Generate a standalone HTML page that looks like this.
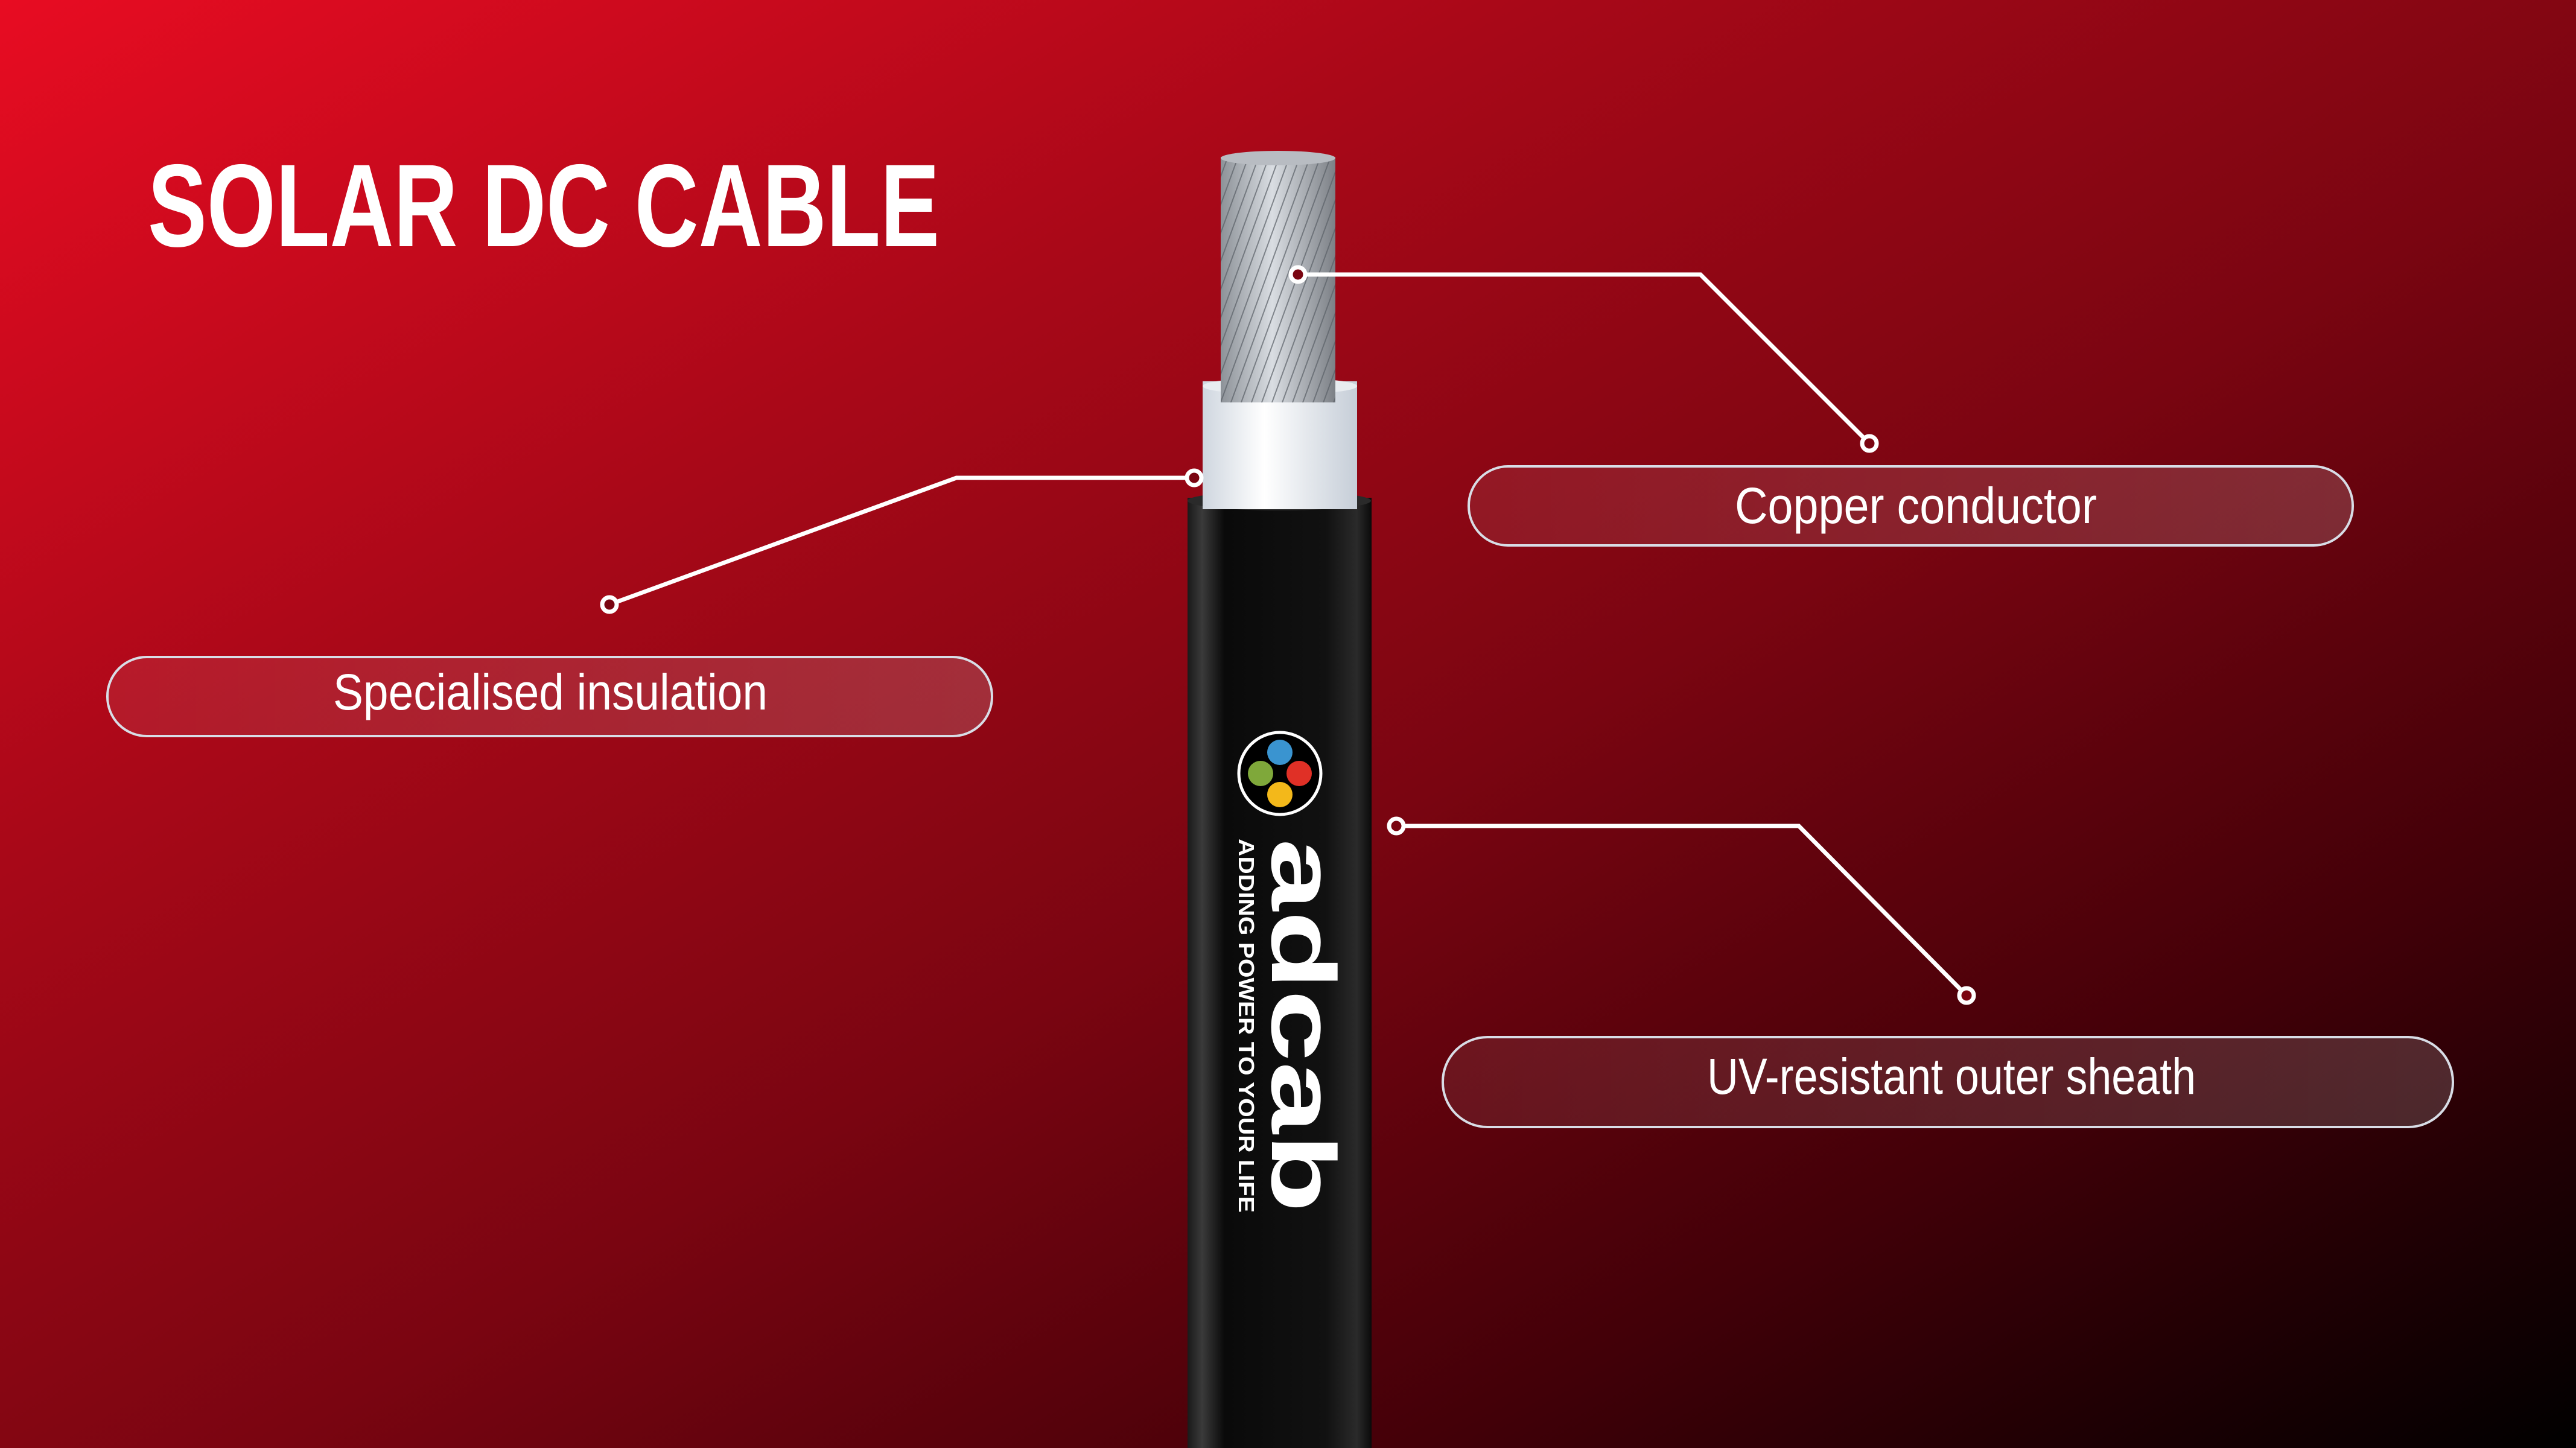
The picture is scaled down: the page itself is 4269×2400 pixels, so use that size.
<!DOCTYPE html>
<html><head><meta charset="utf-8"><style>
html,body{margin:0;padding:0;}
body{width:4269px;height:2400px;overflow:hidden;background:linear-gradient(to bottom right,#e80c22 0%,#a80818 30%,#7a0511 55%,#420008 78%,#000 100%);font-family:"Liberation Sans",sans-serif;}
</style></head><body>
<svg width="4269" height="2400" viewBox="0 0 4269 2400" xmlns="http://www.w3.org/2000/svg" style="position:absolute;left:0;top:0">
<defs>
<linearGradient id="sheath" x1="0" x2="1" y1="0" y2="0">
<stop offset="0" stop-color="#1a1a1a"/><stop offset="0.08" stop-color="#3a3a3a"/><stop offset="0.2" stop-color="#0a0a0a"/><stop offset="0.75" stop-color="#111"/><stop offset="0.92" stop-color="#2a2a2a"/><stop offset="1" stop-color="#0a0a0a"/>
</linearGradient>
<linearGradient id="ins" x1="0" x2="1"><stop offset="0" stop-color="#cfd6df"/><stop offset="0.4" stop-color="#ffffff"/><stop offset="1" stop-color="#c6ced8"/></linearGradient>
<linearGradient id="cu" x1="0" x2="1"><stop offset="0" stop-color="#8d9298"/><stop offset="0.45" stop-color="#d9dde2"/><stop offset="1" stop-color="#7c8086"/></linearGradient>
<pattern id="strand" width="16" height="60" patternUnits="userSpaceOnUse" patternTransform="rotate(20)">
<line x1="0" y1="0" x2="0" y2="60" stroke="#5a5f66" stroke-width="4" opacity="0.7"/>
</pattern>
<linearGradient id="pill" x1="0" x2="1"><stop offset="0" stop-color="#ffffff" stop-opacity="0.07"/><stop offset="1" stop-color="#ffffff" stop-opacity="0.16"/></linearGradient>
</defs>

<text x="245" y="408" fill="#fff" font-size="195" font-weight="bold" textLength="1312" lengthAdjust="spacingAndGlyphs">SOLAR DC CABLE</text>

<rect x="1968" y="825" width="305" height="1600" fill="url(#sheath)"/>
<ellipse cx="2120" cy="830" rx="152" ry="16" fill="#2a2a2a"/>
<rect x="1993" y="632" width="256" height="212" fill="url(#ins)"/>
<ellipse cx="2121" cy="640" rx="128" ry="14" fill="#e8ecf0"/>
<rect x="2023" y="260" width="190" height="407" fill="url(#cu)"/>
<rect x="2023" y="260" width="190" height="407" fill="url(#strand)"/>
<ellipse cx="2118" cy="262" rx="95" ry="12" fill="#b8bcc2"/>

<circle cx="2121" cy="1282" r="68" fill="#000" stroke="#fff" stroke-width="5"/>
<circle cx="2121" cy="1247" r="21" fill="#3a94d0"/>
<circle cx="2089" cy="1282" r="21" fill="#7fa83a"/>
<circle cx="2153" cy="1282" r="21" fill="#e03026"/>
<circle cx="2121" cy="1317" r="21" fill="#f3b81a"/>
<text transform="translate(2108,1390) rotate(90)" fill="#fff" font-size="150" font-weight="bold" textLength="620" lengthAdjust="spacingAndGlyphs">adcab</text>
<text transform="translate(2053,1390) rotate(90)" fill="#fff" font-size="36" font-weight="bold" textLength="620" lengthAdjust="spacingAndGlyphs">ADDING POWER TO YOUR LIFE</text>

<g stroke="#fff" stroke-width="7" fill="none">
<polyline points="2151,455 2818,455 3098,735"/>
<polyline points="1979,792 1585,792 1010,1002"/>
<polyline points="2314,1369 2981,1369 3259,1650"/>
</g>
<g stroke="#fff" stroke-width="7" fill="#7a0511">
<circle cx="2151" cy="455" r="12"/><circle cx="3098" cy="735" r="12"/>
<circle cx="1979" cy="792" r="12"/><circle cx="1010" cy="1002" r="12"/>
<circle cx="2314" cy="1369" r="12"/><circle cx="3259" cy="1650" r="12"/>
</g>

<g stroke="#d8dde6" stroke-width="4" fill="url(#pill)">
<rect x="2434" y="773" width="1465" height="131" rx="65"/>
<rect x="178" y="1089" width="1466" height="131" rx="65"/>
<rect x="2391" y="1719" width="1674" height="149" rx="74"/>
</g>
<g fill="#fff" font-size="84" text-anchor="middle">
<text x="3175" y="867" textLength="600" lengthAdjust="spacingAndGlyphs">Copper conductor</text>
<text x="912" y="1176" textLength="720" lengthAdjust="spacingAndGlyphs">Specialised insulation</text>
<text x="3234" y="1813" textLength="810" lengthAdjust="spacingAndGlyphs">UV-resistant outer sheath</text>
</g>
</svg>
</body></html>
